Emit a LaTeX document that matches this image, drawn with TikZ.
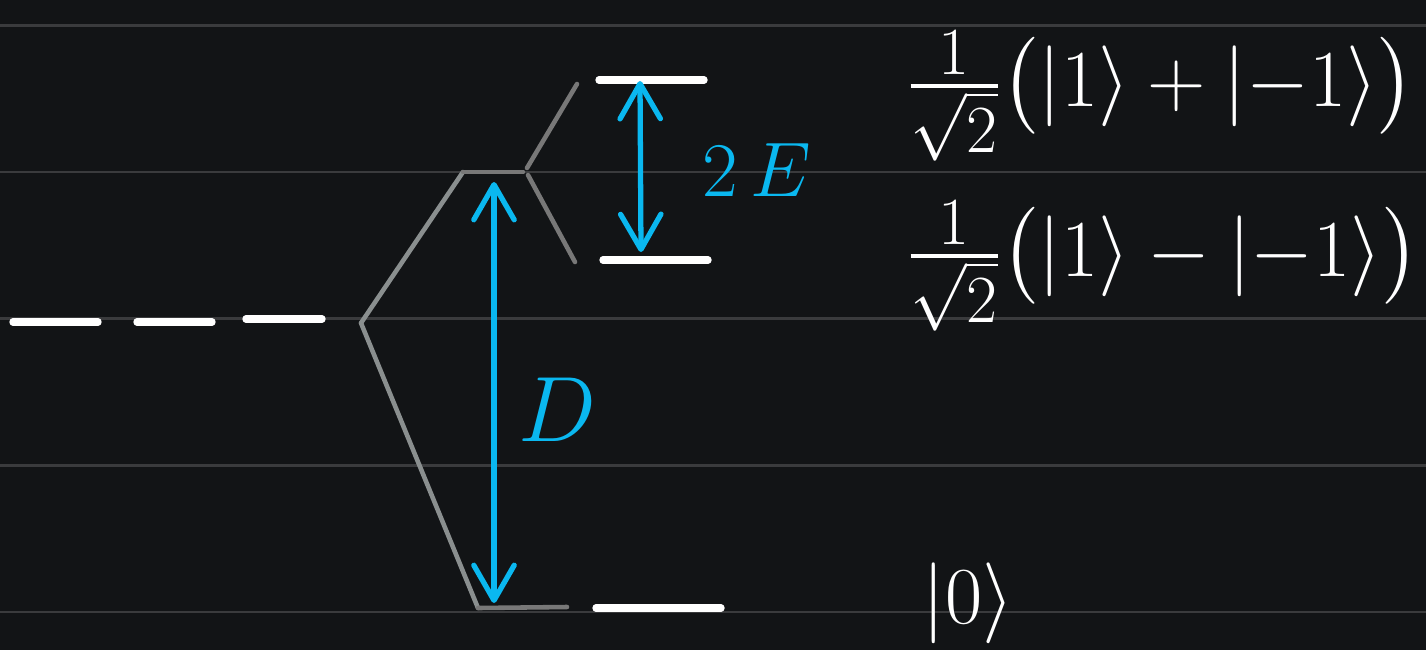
\documentclass[tikz,border=0pt]{standalone}
\usepackage{amsmath, amssymb}
\usepackage{tikz}
\usetikzlibrary{arrows.meta, positioning, calc}
\definecolor{bgDark}{HTML}{121416}
\definecolor{ruleGray}{HTML}{3A3B3D}
\definecolor{legGray}{HTML}{8A8F8F}
\definecolor{splitGray}{HTML}{787878}
\definecolor{skyCyan}{HTML}{0AB8F0}

\begin{document}
\begin{tikzpicture}[x=0.02cm, y=-0.02cm,
  level/.style={white, line width=4.2pt, line cap=round},
  leg/.style={legGray, line width=2.6pt, line cap=round, line join=round},
  split/.style={splitGray, line width=2.6pt, line cap=round},
  gap/.style={skyCyan, line width=3pt, line cap=round,
    {Straight Barb[length=20pt, width=23pt, round]}-{Straight Barb[length=20pt, width=23pt, round]}},
  ket/.style={white, inner sep=0pt, anchor=west, font=\Huge, scale=1.85, transform shape},
  gaplabel/.style={skyCyan, inner sep=0pt, font=\Huge, scale=1.77, transform shape}]
  \fill[bgDark] (0,0) rectangle (1426,650);
  \useasboundingbox (0,0) rectangle (1426,650);
  \foreach \y in {25.3, 172, 318.7, 465.4, 612} {
    \draw[ruleGray, line width=1.6pt] (0,\y) -- (1426,\y);
  }
  \foreach \a/\b/\y in {13/98/322, 137/212/322, 246/322/319} {
    \draw[level] (\a,\y) -- (\b,\y);
  }
  \coordinate (deg) at (361,323);
  \coordinate (upL) at (463,172);
  \coordinate (upR) at (523,172);
  \coordinate (lowL) at (478,608);
  \coordinate (lowR) at (567,607);
  \coordinate (plusEnd) at (577,84);
  \coordinate (minusEnd) at (575,262);
  \draw[leg] (deg) -- (upL);
  \draw[leg] (deg) -- (lowL);
  \draw[split] (upL) -- (upR);
  \draw[split] (lowL) -- (lowR);
  \draw[split] (527,168) -- (plusEnd);
  \draw[split] (528,175) -- (minusEnd);
  \coordinate (plusA) at (599,80);
  \coordinate (plusB) at (704,80);
  \coordinate (minusA) at (603,260);
  \coordinate (minusB) at (708,260);
  \coordinate (zeroA) at (596,608);
  \coordinate (zeroB) at (721,608);
  \draw[level] (plusA) -- (plusB);
  \draw[level] (minusA) -- (minusB);
  \draw[level] (zeroA) -- (zeroB);
  \coordinate (eTop) at (640,81);
  \coordinate (eBot) at (641,252);
  \coordinate (dTop) at (494,182);
  \coordinate (dBot) at (494,603);
  \draw[gap] (eBot) -- (eTop);
  \draw[gap] (dBot) -- (dTop);
  \node[gaplabel] (labE) at (757,170) {$2\,E$};
  \node[gaplabel, scale=1.2] (labD) at (557,410) {$D$};
  \node[ket] (ketPlus) at (906,96) {$\tfrac{1}{\sqrt{2}}\bigl(|1\rangle + |{-1}\rangle\bigr)$};
  \node[ket] (ketMinus) at (906,266) {$\tfrac{1}{\sqrt{2}}\bigl(|1\rangle - |{-1}\rangle\bigr)$};
  \node[ket] (ketZero) at (922,603) {$|0\rangle$};
\end{tikzpicture}
\end{document}
